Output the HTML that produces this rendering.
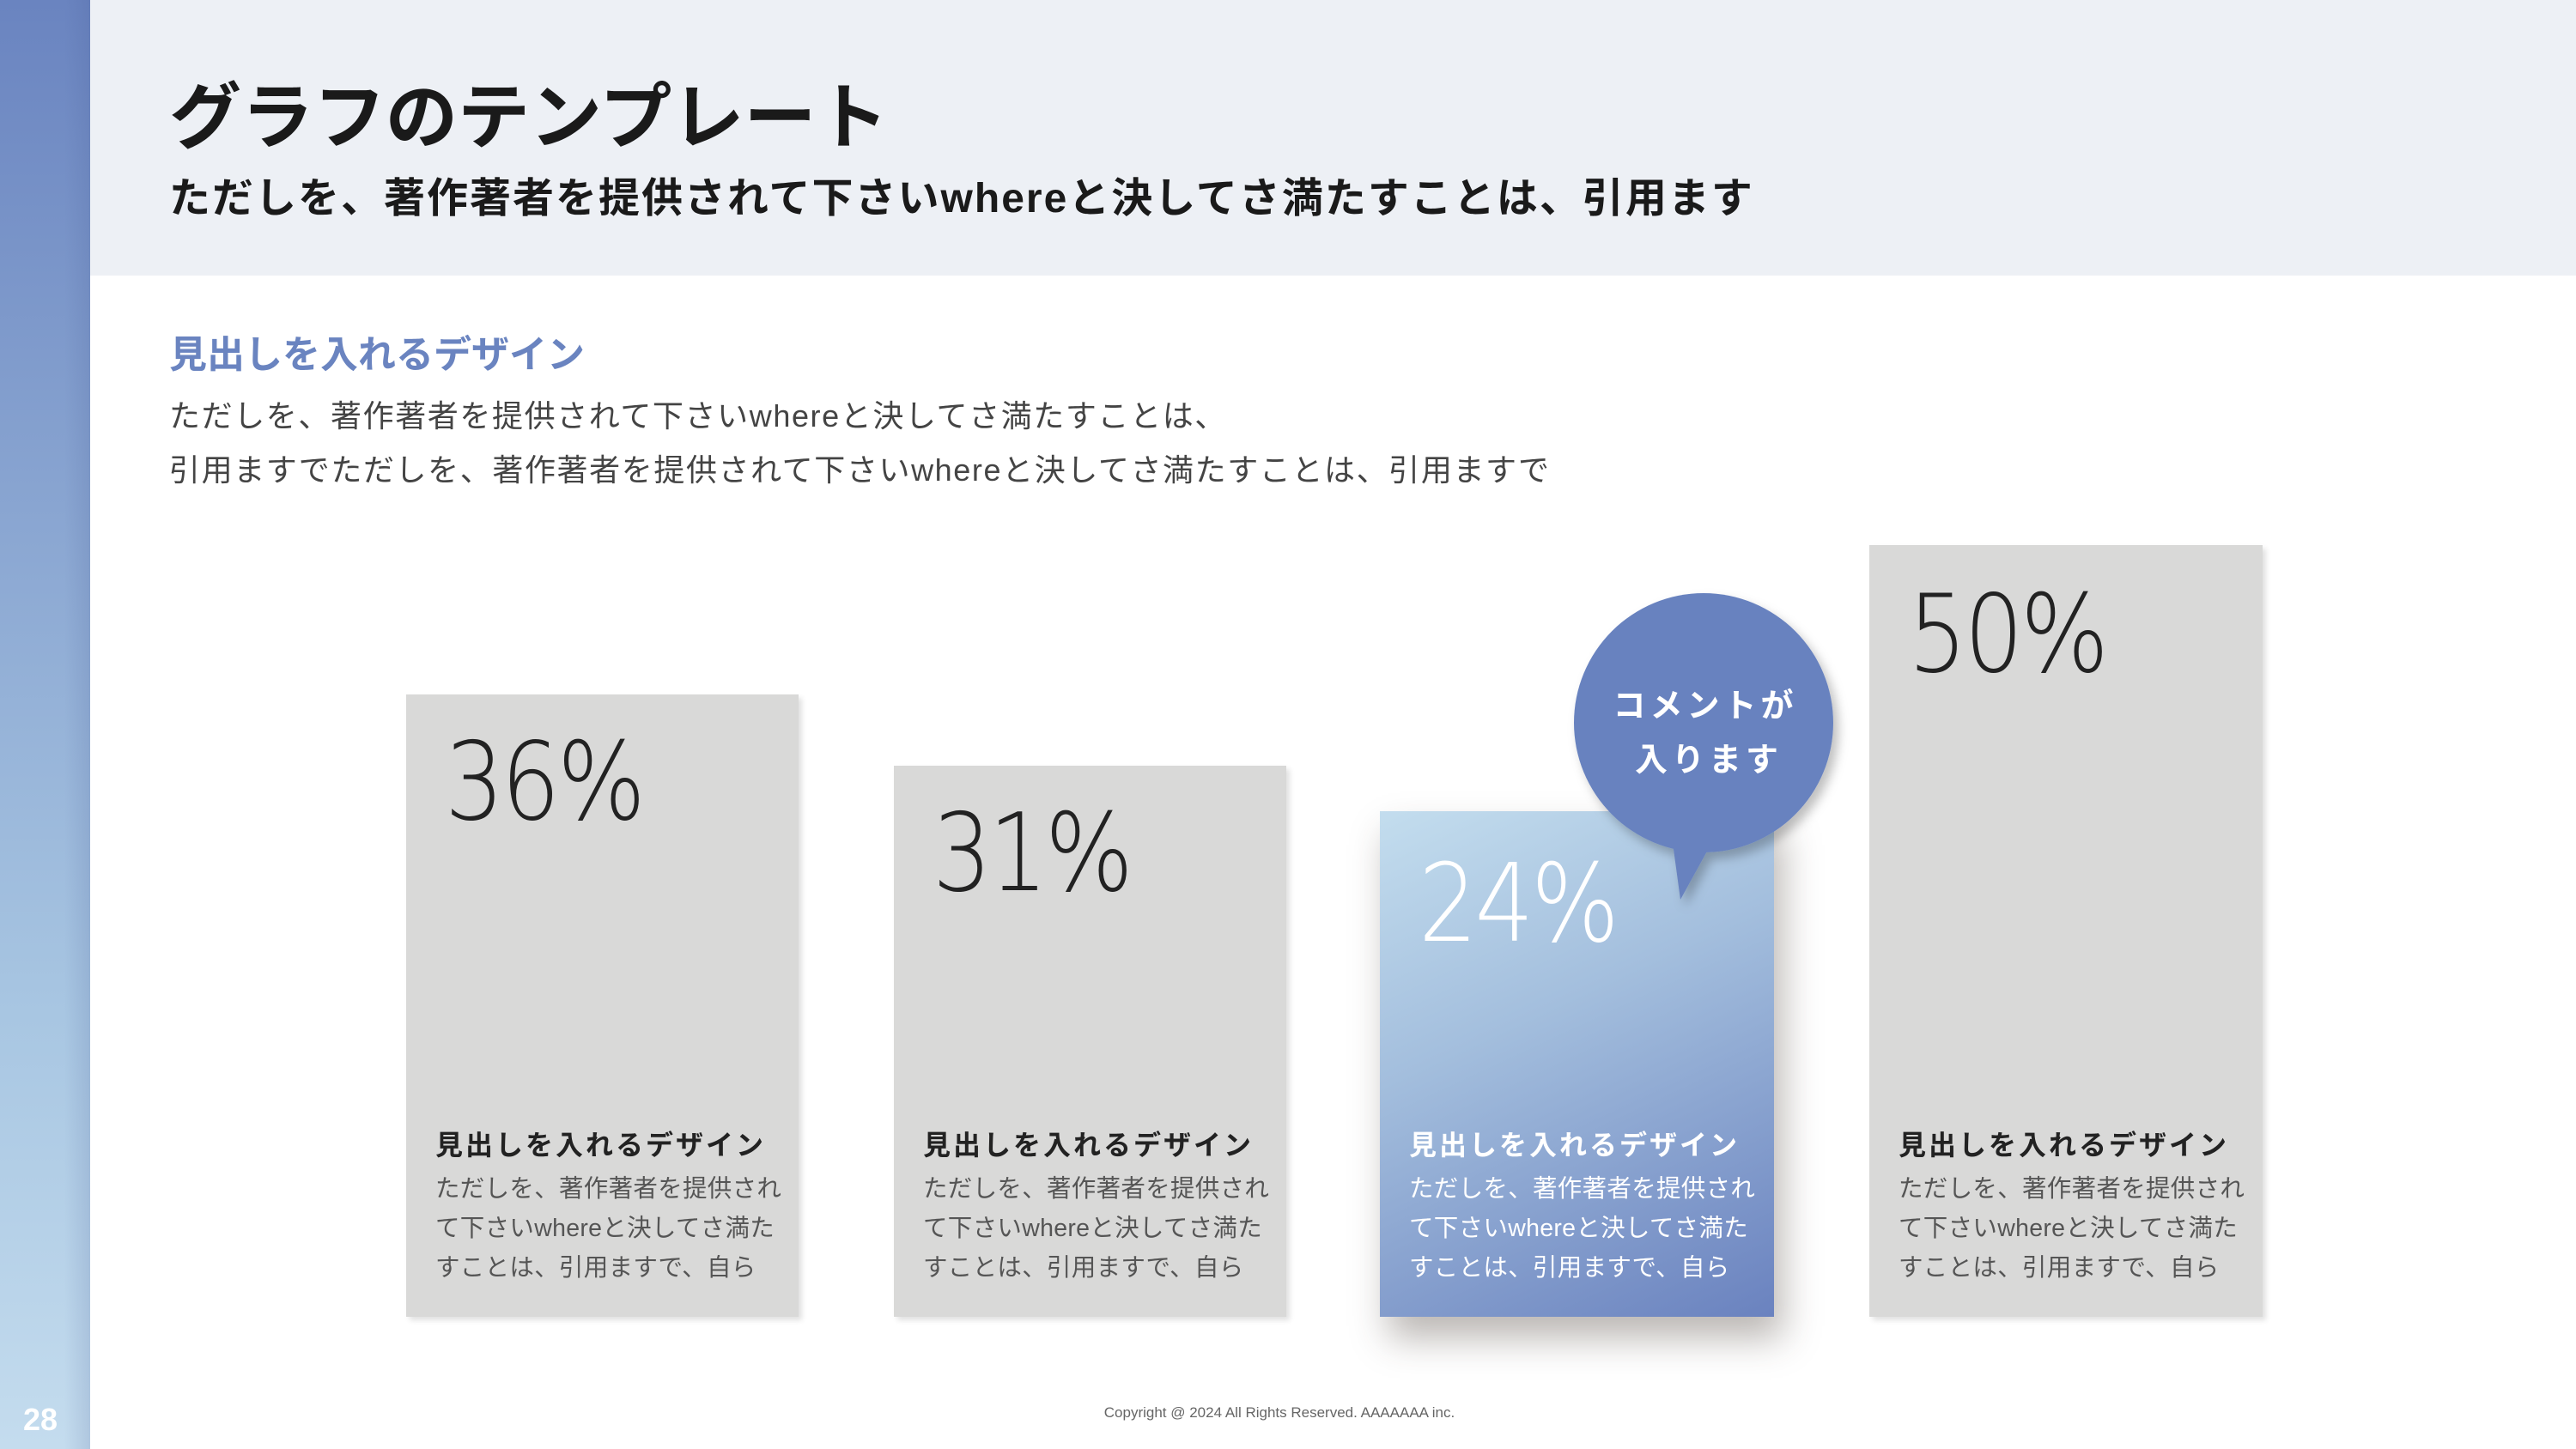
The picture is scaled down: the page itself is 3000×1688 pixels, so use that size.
<!DOCTYPE html>
<html><head><meta charset="utf-8"><style>
*{margin:0;padding:0;box-sizing:border-box}
body{width:3000px;height:1688px;position:relative;background:#fff;font-family:"Liberation Sans","Noto Sans CJK JP",sans-serif;overflow:hidden}
.side{position:absolute;left:0;top:0;width:105px;height:1688px;background:linear-gradient(to bottom,#6a84c0,#a8c6e2 70%,#c4dcee)}
.side::after{content:"";position:absolute;right:0;top:0;width:30px;height:100%;background:linear-gradient(to right,rgba(0,0,0,0),rgba(60,80,140,.15))}
.head{position:absolute;left:105px;top:0;width:2895px;height:321px;background:#edf0f5}
.t{position:absolute;left:197px;white-space:nowrap}
.card{position:absolute;background:#d9d9d8;box-shadow:4px 4px 6px rgba(0,0,0,.12)}
.pct{position:absolute;left:45px;font-family:"DejaVu Sans","Liberation Sans",sans-serif;font-weight:200;font-size:126px;color:#222;letter-spacing:-4px;transform:scaleX(0.86);transform-origin:left top}
.ch{position:absolute;left:34px;top:495px;font-size:32px;font-weight:bold;color:#222;letter-spacing:3px;white-space:nowrap}
.cb{position:absolute;left:34px;font-size:28.5px;color:#555;line-height:46px;letter-spacing:0.3px;white-space:nowrap}
</style></head><body>
<div class="side"></div>
<div class="head"></div>
<div class="t" style="top:70px;font-size:84px;font-weight:bold;color:#1a1a1a;letter-spacing:0px">グラフのテンプレート</div>
<div class="t" style="top:191px;font-size:48px;font-weight:bold;color:#1a1a1a;letter-spacing:2px">ただしを、著作著者を提供されて下さいwhereと決してさ満たすことは、引用ます</div>
<div class="t" style="top:377px;font-size:44px;font-weight:bold;color:#6a84c0">見出しを入れるデザイン</div>
<div class="t" style="top:456px;font-size:36px;color:#444;letter-spacing:1.6px">ただしを、著作著者を提供されて下さいwhereと決してさ満たすことは、</div>
<div class="t" style="top:519px;font-size:36px;color:#444;letter-spacing:1.6px">引用ますでただしを、著作著者を提供されて下さいwhereと決してさ満たすことは、引用ますで</div>

<div class="card" style="left:473px;top:809px;width:457px;height:725px">
<div class="pct" style="top:28px">36%</div>
<div class="ch" style="top:500px">見出しを入れるデザイン</div>
<div class="cb" style="top:553px">ただしを、著作著者を提供され<br>て下さいwhereと決してさ満た<br>すことは、引用ますで、自ら</div></div>

<div class="card" style="left:1041px;top:892px;width:457px;height:642px">
<div class="pct" style="top:28px">31%</div>
<div class="ch" style="top:417px">見出しを入れるデザイン</div>
<div class="cb" style="top:470px">ただしを、著作著者を提供され<br>て下さいwhereと決してさ満た<br>すことは、引用ますで、自ら</div></div>

<div class="card" style="left:1607px;top:945px;width:459px;height:589px;background:linear-gradient(155deg,#c3ddee 0%,#a3bedd 40%,#6a82bf 100%);box-shadow:10px 25px 40px rgba(60,50,40,.35)">
<div class="pct" style="top:34px;color:#fff">24%</div>
<div class="ch" style="top:364px;color:#fff">見出しを入れるデザイン</div>
<div class="cb" style="top:417px;color:#fff">ただしを、著作著者を提供され<br>て下さいwhereと決してさ満た<br>すことは、引用ますで、自ら</div></div>

<svg style="position:absolute;left:0;top:0" width="3000" height="1688">
<defs><filter id="f" x="-20%" y="-20%" width="150%" height="150%"><feDropShadow dx="6" dy="8" stdDeviation="6" flood-opacity=".25"/></filter></defs>
<g filter="url(#f)"><circle cx="1984" cy="842" r="151" fill="#6882bf"/><path d="M1945 960 L1957 1048 L2000 970 Z" fill="#6882bf"/></g>
<text x="1986" y="835" text-anchor="middle" font-size="38" font-weight="bold" fill="#fff" letter-spacing="5" font-family="Liberation Sans,Noto Sans CJK JP,sans-serif">コメントが</text>
<text x="1990" y="898" text-anchor="middle" font-size="38" font-weight="bold" fill="#fff" letter-spacing="5" font-family="Liberation Sans,Noto Sans CJK JP,sans-serif">入ります</text>
</svg>

<div class="card" style="left:2177px;top:635px;width:458px;height:899px">
<div class="pct" style="top:30px">50%</div>
<div class="ch" style="top:674px">見出しを入れるデザイン</div>
<div class="cb" style="top:727px">ただしを、著作著者を提供され<br>て下さいwhereと決してさ満た<br>すことは、引用ますで、自ら</div></div>

<div style="position:absolute;left:-10px;width:3000px;text-align:center;top:1636px;font-size:17px;color:#666">Copyright @ 2024 All Rights Reserved. AAAAAAA inc.</div>
<div style="position:absolute;left:27px;top:1633px;font-size:36px;font-weight:bold;color:#fff">28</div>
</body></html>
